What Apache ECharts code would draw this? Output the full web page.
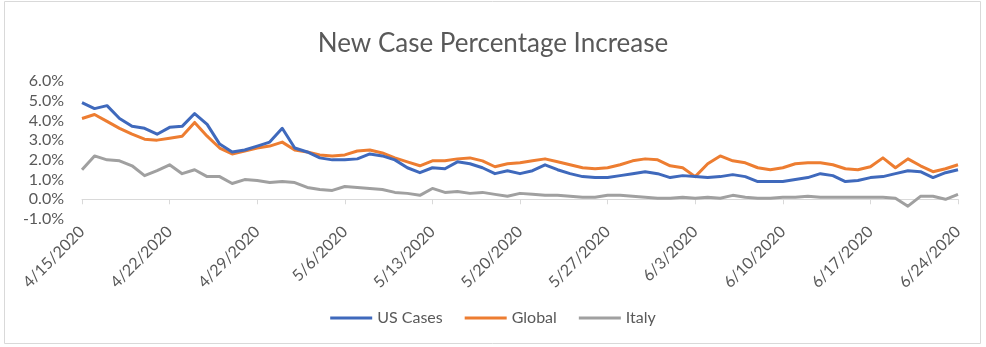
<!DOCTYPE html>
<html>
<head>
<meta charset="utf-8">
<script src="https://cdn.jsdelivr.net/npm/echarts@6/dist/echarts.min.js"></script>
<style>html,body{margin:0;padding:0;background:#fff;}#c{width:986px;height:347px;}</style>
</head>
<body>
<div id="c"></div>
<script>
const startDate = [2020, 4, 15];
const dayCount = 71;
const usCases = [4.9,4.6,4.75,4.1,3.7,3.6,3.3,3.65,3.7,4.35,3.8,2.8,2.4,2.5,2.7,2.9,3.6,2.6,2.4,2.1,2.0,2.0,2.05,2.3,2.2,2.0,1.6,1.35,1.6,1.55,1.9,1.8,1.6,1.3,1.45,1.3,1.45,1.75,1.5,1.3,1.15,1.1,1.1,1.2,1.3,1.4,1.3,1.1,1.2,1.15,1.1,1.15,1.25,1.15,0.9,0.9,0.9,1.0,1.1,1.3,1.2,0.9,0.95,1.1,1.15,1.3,1.45,1.4,1.1,1.35,1.5];
const globalCases = [4.1,4.3,3.95,3.6,3.3,3.05,3.0,3.1,3.2,3.9,3.2,2.6,2.3,2.45,2.6,2.7,2.9,2.5,2.4,2.25,2.2,2.25,2.45,2.5,2.35,2.1,1.9,1.7,1.95,1.95,2.05,2.1,1.95,1.65,1.8,1.85,1.95,2.05,1.9,1.75,1.6,1.55,1.6,1.75,1.95,2.05,2.0,1.7,1.6,1.15,1.8,2.2,1.95,1.85,1.6,1.5,1.6,1.8,1.85,1.85,1.75,1.55,1.5,1.65,2.1,1.6,2.05,1.7,1.4,1.55,1.75];
const italyCases = [1.5,2.2,2.0,1.95,1.7,1.2,1.45,1.75,1.3,1.5,1.15,1.15,0.8,1.0,0.95,0.85,0.9,0.85,0.6,0.5,0.45,0.65,0.6,0.55,0.5,0.35,0.3,0.2,0.55,0.35,0.4,0.3,0.35,0.25,0.15,0.3,0.25,0.2,0.2,0.15,0.1,0.1,0.2,0.2,0.15,0.1,0.05,0.05,0.1,0.05,0.1,0.05,0.2,0.1,0.05,0.05,0.1,0.1,0.15,0.1,0.1,0.1,0.1,0.1,0.1,0.05,-0.35,0.15,0.15,0.0,0.25];
const seriesNames = ['US Cases', 'Global', 'Italy'];
const yTicks = {min: -1, max: 6, step: 1};

const categories = [];
for (let i = 0; i < dayCount; i++) {
  const d = new Date(startDate[0], startDate[1] - 1, startDate[2] + i);
  categories.push((d.getMonth() + 1) + '/' + d.getDate() + '/' + d.getFullYear());
}

const font = 'Lato, "Open Sans", sans-serif';
const chart = echarts.init(document.getElementById('c'), null, {renderer: 'canvas'});
const colors = ['#3F69BC', '#ED7D31', '#A0A0A0'];
const dataSets = [usCases, globalCases, italyCases];

chart.setOption({
  animation: false,
  color: colors,
  textStyle: {fontFamily: font},
  graphic: [{
    type: 'rect', shape: {x: 4.5, y: 1.5, width: 976, height: 342},
    style: {fill: 'none', stroke: '#d9d9d9', lineWidth: 1}, silent: true
  }],
  title: {
    text: 'New Case Percentage Increase',
    left: 'center', top: 26,
    textStyle: {fontFamily: font, fontSize: 26, fontWeight: 'normal', color: '#595959'}
  },
  legend: {
    data: seriesNames,
    bottom: 16, left: 'center',
    icon: 'rect', itemWidth: 42, itemHeight: 3, itemGap: 22,
    textStyle: {fontFamily: font, fontSize: 16, color: '#595959'}
  },
  grid: {left: 82, right: 28, top: 81, bottom: 128, containLabel: false},
  xAxis: {
    type: 'category', data: categories, boundaryGap: false,
    axisLine: {onZero: true, lineStyle: {color: '#d9d9d9', width: 1}},
    axisTick: {show: true, interval: 6, length: 5, lineStyle: {color: '#d9d9d9'}},
    axisLabel: {interval: 6, rotate: 45, fontSize: 16, color: '#595959', fontFamily: font, margin: 10},
    splitLine: {show: false}
  },
  yAxis: {
    type: 'value', min: yTicks.min, max: yTicks.max, interval: yTicks.step,
    axisLine: {show: false}, axisTick: {show: false},
    splitLine: {show: false},
    axisLabel: {fontSize: 16, color: '#595959', fontFamily: font, margin: 18,
      formatter: v => v.toFixed(1) + '%'}
  },
  series: seriesNames.map((n, k) => ({
    name: n, type: 'line', data: dataSets[k], showSymbol: false, symbol: 'none',
    lineStyle: {width: 3, color: colors[k], join: 'round'}, z: 3 - k
  }))
});
</script>
</body>
</html>
